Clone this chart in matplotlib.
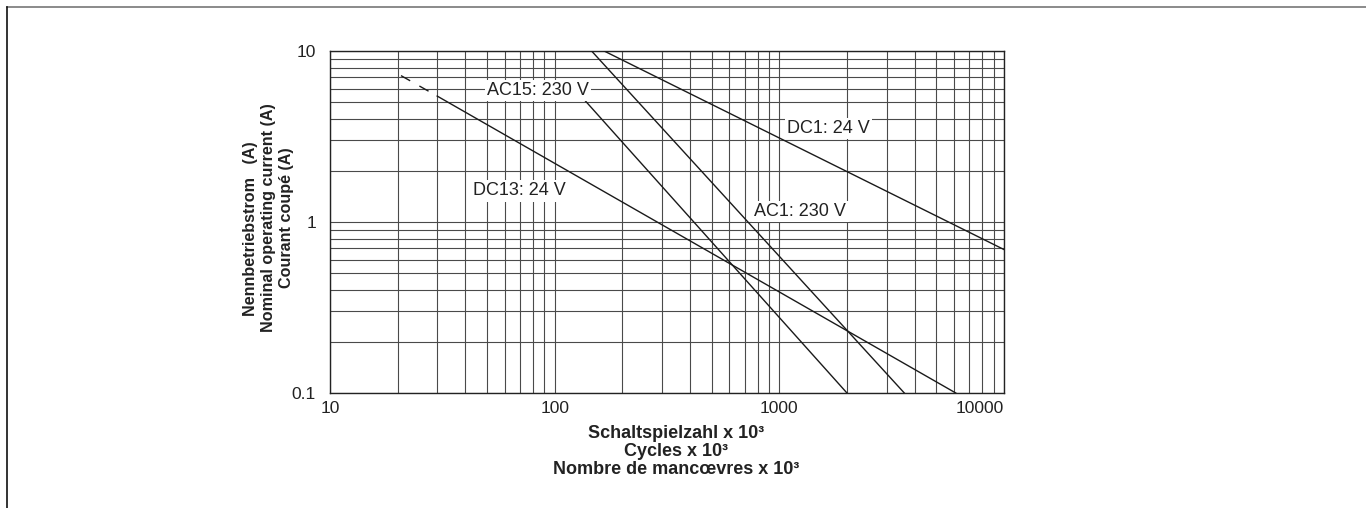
import numpy as np
import matplotlib
matplotlib.use("Agg")
import matplotlib.pyplot as plt
from matplotlib.lines import Line2D

plt.rcParams['font.family'] = ['Liberation Sans', 'DejaVu Sans']

# data (log-log straight lines)
dc13_dash_x = [20.7, 30]
dc13_dash_y = [7.18, 5.45]
dc13_x = [30, 6100]
dc13_y = [5.45, 0.1]
ac15_x = [120, 2000]
ac15_y = [6.2, 0.1]
ac1_x = [146, 3600]
ac1_y = [10, 0.1]
dc1_x = [166, 10000]
dc1_y = [10, 0.69]

# curve labels: text, x, y
labels = [("AC15: 230 V", 84, 5.9),
          ("DC13: 24 V", 70, 1.52),
          ("DC1: 24 V", 1652, 3.52),
          ("AC1: 230 V", 1241, 1.15)]

x_ticks = [10, 100, 1000, 10000]
x_ticklabels = ["10", "100", "1000", "10000"]
y_ticks = [0.1, 1, 10]
y_ticklabels = ["0.1", "1", "10"]

W, H = 1366, 508
fig = plt.figure(figsize=(W / 100, H / 100), dpi=100)
ax = fig.add_axes([330 / W, 1 - 393 / H, (1004 - 330) / W, (393 - 51) / H])

ax.set_xscale('log')
ax.set_yscale('log')
ax.set_xlim(10, 10000)
ax.set_ylim(0.1, 10)

# grid
ax.grid(True, which='both', color='#4a4a4a', linewidth=0.8)
ax.set_axisbelow(True)

# lines
lc = '#1a1a1a'
ax.plot(dc13_dash_x, dc13_dash_y, color=lc, linewidth=1.0, dashes=(7.6, 7.6), zorder=3)
ax.plot(dc13_x, dc13_y, color=lc, linewidth=1.0, zorder=3)
ax.plot(ac15_x, ac15_y, color=lc, linewidth=1.0, zorder=3)
ax.plot(ac1_x, ac1_y, color=lc, linewidth=1.0, zorder=3)
ax.plot(dc1_x, dc1_y, color=lc, linewidth=1.0, zorder=3)

for txt, x, y in labels:
    ax.text(x, y, txt, fontsize=13, ha='center', va='center', color='#222222', zorder=4,
            bbox=dict(facecolor='white', edgecolor='none', pad=1.5))

# ticks
ax.set_xticks(x_ticks)
ax.set_xticklabels(x_ticklabels, fontsize=12.5, color='#222222')
ax.set_yticks(y_ticks)
ax.set_yticklabels(y_ticklabels, fontsize=12.5, color='#222222')
ax.xaxis.set_minor_formatter(plt.NullFormatter())
ax.yaxis.set_minor_formatter(plt.NullFormatter())
ax.tick_params(which='both', length=0)
ax.tick_params(axis='x', pad=6)
ax.tick_params(axis='y', pad=10)
ax.get_xticklabels()[-1].set_horizontalalignment('right')
for s in ax.spines.values():
    s.set_linewidth(1.0)
    s.set_color('#222222')

# x axis title, three lines
xl = [('Schaltspielzahl x 10³', 433),
      ('Cycles x 10³', 451.5),
      ('Nombre de mancœvres x 10³', 470)]
for t, py in xl:
    fig.text(676.5 / W, 1 - py / H, t, fontsize=13, fontweight='bold', ha='center', va='center',
             color='#222222')

# y axis title, three lines
yl = [('Nennbetriebstrom   (A)', 250, 229),
      ('Nominal operating current (A)', 268, 218),
      ('Courant coupé (A)', 286.5, 218)]
for t, px, py in yl:
    fig.text(px / W, 1 - py / H, t, fontsize=11.6, fontweight='bold', ha='center', va='center',
             rotation=90, color='#222222')

# frame lines at top and left
fig.add_artist(Line2D([7 / W, 1], [1 - 7 / H, 1 - 7 / H], color='#777777', linewidth=1.2,
                      transform=fig.transFigure))
fig.add_artist(Line2D([7 / W, 7 / W], [0, 1 - 7 / H], color='#111111', linewidth=1.2,
                      transform=fig.transFigure))

plt.savefig('out.png', dpi=100)
